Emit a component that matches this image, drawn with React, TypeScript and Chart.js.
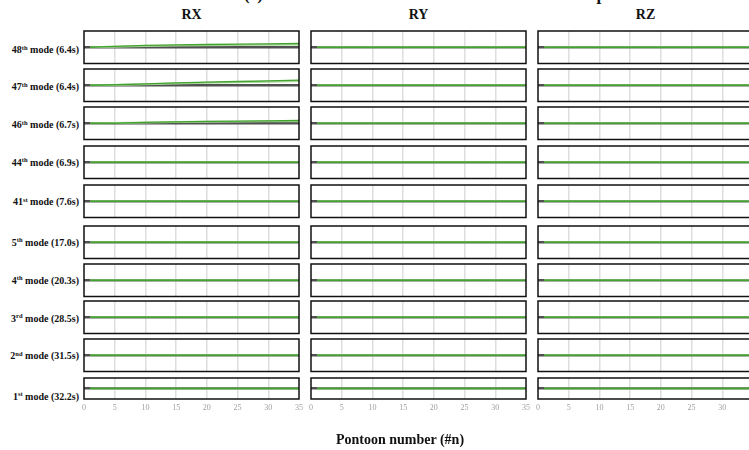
import React, { useEffect, useRef } from "react";
import { Chart, registerables } from "chart.js";

Chart.register(...registerables);

// ---------------- data ----------------
const PONTOONS = [1, 5, 10, 15, 20, 25, 30, 35];
const X_TICKS = [0, 5, 10, 15, 20, 25, 30, 35];
const COMPONENTS = ["RX", "RY", "RZ"];
const MODE_NUM = ["48", "47", "46", "44", "41", "5", "4", "3", "2", "1"];
const MODE_SUFFIX = ["th", "th", "th", "th", "st", "th", "th", "rd", "nd", "st"];
const MODE_PERIOD = ["6.4s", "6.4s", "6.7s", "6.9s", "7.6s", "17.0s", "20.3s", "28.5s", "31.5s", "32.2s"];

const FLAT = [0, 0, 0, 0, 0, 0, 0, 0];
const RX48_MAIN = [0, 0.06, 0.12, 0.15, 0.17, 0.19, 0.21, 0.23];
const RX48_SHADE = [0, 0.03, 0.07, 0.1, 0.12, 0.14, 0.16, 0.17];
const RX47_MAIN = [0, 0.03, 0.09, 0.15, 0.19, 0.23, 0.27, 0.32];
const RX47_SHADE = [0, 0.02, 0.06, 0.11, 0.15, 0.19, 0.22, 0.26];
const RX46_MAIN = [0, 0.0, 0.05, 0.09, 0.11, 0.13, 0.15, 0.17];
const RX46_SHADE = [0, 0.01, 0.04, 0.07, 0.09, 0.1, 0.12, 0.13];

const MAIN_SERIES = [
  [RX48_MAIN, FLAT, FLAT],
  [RX47_MAIN, FLAT, FLAT],
  [RX46_MAIN, FLAT, FLAT],
  [FLAT, FLAT, FLAT],
  [FLAT, FLAT, FLAT],
  [FLAT, FLAT, FLAT],
  [FLAT, FLAT, FLAT],
  [FLAT, FLAT, FLAT],
  [FLAT, FLAT, FLAT],
  [FLAT, FLAT, FLAT],
];
const SHADE_SERIES = [
  [RX48_SHADE, FLAT, FLAT],
  [RX47_SHADE, FLAT, FLAT],
  [RX46_SHADE, FLAT, FLAT],
  [FLAT, FLAT, FLAT],
  [FLAT, FLAT, FLAT],
  [FLAT, FLAT, FLAT],
  [FLAT, FLAT, FLAT],
  [FLAT, FLAT, FLAT],
  [FLAT, FLAT, FLAT],
  [FLAT, FLAT, FLAT],
];

// ---------------- layout ----------------
const COL_LEFT = [84, 311, 538];
const PLOT_W = 215;
const ROW_TOP = [31, 69, 107, 146, 184.5, 226, 263.5, 301, 339, 378];
const ROW_H = [32.5, 32.5, 32.5, 32.5, 32.5, 32.5, 32.5, 32.5, 32.5, 25];
const LABEL_Y = [50, 87, 125, 162.5, 202, 242.5, 280.5, 318.5, 356, 396.5];
const PAD_X = 8;
const TICK_SPACE = 14;
const SERIF = "'Liberation Serif', 'Times New Roman', serif";

const framePlugin = {
  id: "frame",
  afterDatasetsDraw(chart: any) {
    const { ctx, chartArea } = chart;
    ctx.save();
    ctx.strokeStyle = "#111";
    ctx.lineWidth = 1.5;
    ctx.strokeRect(chartArea.left, chartArea.top, chartArea.right - chartArea.left, chartArea.bottom - chartArea.top);
    ctx.restore();
  },
};

function SubPlot(props: { main: number[]; shade: number[]; showTicks: boolean; left: number; top: number; plotH: number }) {
  const ref = useRef<HTMLCanvasElement | null>(null);
  const { main, shade, showTicks, left, top, plotH } = props;
  const w = PLOT_W + PAD_X * 2;
  const h = Math.round(plotH + 2 + (showTicks ? TICK_SPACE : 0));
  useEffect(() => {
    if (!ref.current) return;
    const chart = new Chart(ref.current, {
      type: "line",
      data: {
        datasets: [
          {
            data: PONTOONS.map((p, i) => ({ x: p, y: main[i] })),
            borderColor: "#43a32f",
            borderWidth: 1.3,
            pointRadius: 0,
            tension: 0,
          },
          {
            data: PONTOONS.map((p, i) => ({ x: p, y: shade[i] })),
            borderColor: "#a9d79b",
            borderWidth: 2,
            pointRadius: 0,
            tension: 0,
          },
        ],
      },
      options: {
        responsive: false,
        animation: false,
        events: [],
        layout: { padding: { left: PAD_X, right: PAD_X, top: 1, bottom: h - 1 - plotH - (showTicks ? 13.6 : 0) } },
        plugins: { legend: { display: false }, tooltip: { enabled: false }, title: { display: false } },
        scales: {
          x: {
            type: "linear",
            min: 0,
            max: 35,
            afterBuildTicks: (axis: any) => {
              axis.ticks = X_TICKS.map((v) => ({ value: v }));
            },
            border: { display: false },
            grid: {
              drawTicks: false,
              lineWidth: 1.5,
              color: (c: any) => (c.tick && (c.tick.value === 0 || c.tick.value === 35) ? "rgba(0,0,0,0)" : "#dedede"),
            },
            ticks: {
              display: showTicks,
              padding: 4,
              color: "#a0a0a0",
              font: { family: SERIF, size: 8 },
              maxRotation: 0,
              autoSkip: false,
            },
          },
          y: {
            min: -1,
            max: 1,
            border: { display: false },
            grid: {
              drawTicks: false,
              lineWidth: 2.5,
              color: (c: any) => (c.tick && c.tick.value === 0 ? "#505050" : "rgba(0,0,0,0)"),
            },
            ticks: { display: false, stepSize: 1 },
          },
        },
      },
      plugins: [framePlugin],
    });
    return () => chart.destroy();
  }, [main, shade, showTicks, plotH, h]);
  return (
    <canvas
      ref={ref}
      width={w}
      height={h}
      style={{ position: "absolute", left: left - PAD_X, top: top - 1, width: w, height: h }}
    />
  );
}

export default function App() {
  return (
    <div
      style={{
        position: "fixed",
        left: 0,
        top: 0,
        width: 749,
        height: 450,
        overflow: "hidden",
        background: "#fff",
        fontFamily: SERIF,
        color: "#111",
      }}
    >
      <div
        style={{
          position: "absolute",
          left: 12,
          width: 840,
          top: -14,
          textAlign: "center",
          fontSize: 17,
          lineHeight: "17px",
          fontWeight: "bold",
          whiteSpace: "nowrap",
        }}
      >
        (c) Rotational DOFs of the considered modal shapes
      </div>
      {COMPONENTS.map((c, ci) => (
        <div
          key={c}
          style={{
            position: "absolute",
            left: COL_LEFT[ci],
            width: PLOT_W,
            top: 7,
            textAlign: "center",
            fontSize: 14,
            lineHeight: "16px",
            fontWeight: "bold",
          }}
        >
          {c}
        </div>
      ))}
      {MODE_NUM.map((m, ri) => (
        <div
          key={"lab" + ri}
          style={{
            position: "absolute",
            right: 749 - 79,
            top: LABEL_Y[ri] - 6,
            fontSize: 10,
            lineHeight: "12px",
            fontWeight: "bold",
            whiteSpace: "nowrap",
          }}
        >
          {m}
          <span style={{ fontSize: 6.5, position: "relative", top: -3.5 }}>{MODE_SUFFIX[ri]}</span> mode ({MODE_PERIOD[ri]})
        </div>
      ))}
      {MODE_NUM.map((m, ri) =>
        COMPONENTS.map((c, ci) => (
          <SubPlot
            key={m + c}
            main={MAIN_SERIES[ri][ci]}
            shade={SHADE_SERIES[ri][ci]}
            showTicks={ri === MODE_NUM.length - 1}
            left={COL_LEFT[ci]}
            top={ROW_TOP[ri]}
            plotH={ROW_H[ri]}
          />
        ))
      )}
      <div
        style={{
          position: "absolute",
          left: 300,
          width: 200,
          top: 431,
          textAlign: "center",
          fontSize: 14,
          lineHeight: "18px",
          fontWeight: "bold",
          whiteSpace: "nowrap",
        }}
      >
        Pontoon number (#n)
      </div>
    </div>
  );
}
